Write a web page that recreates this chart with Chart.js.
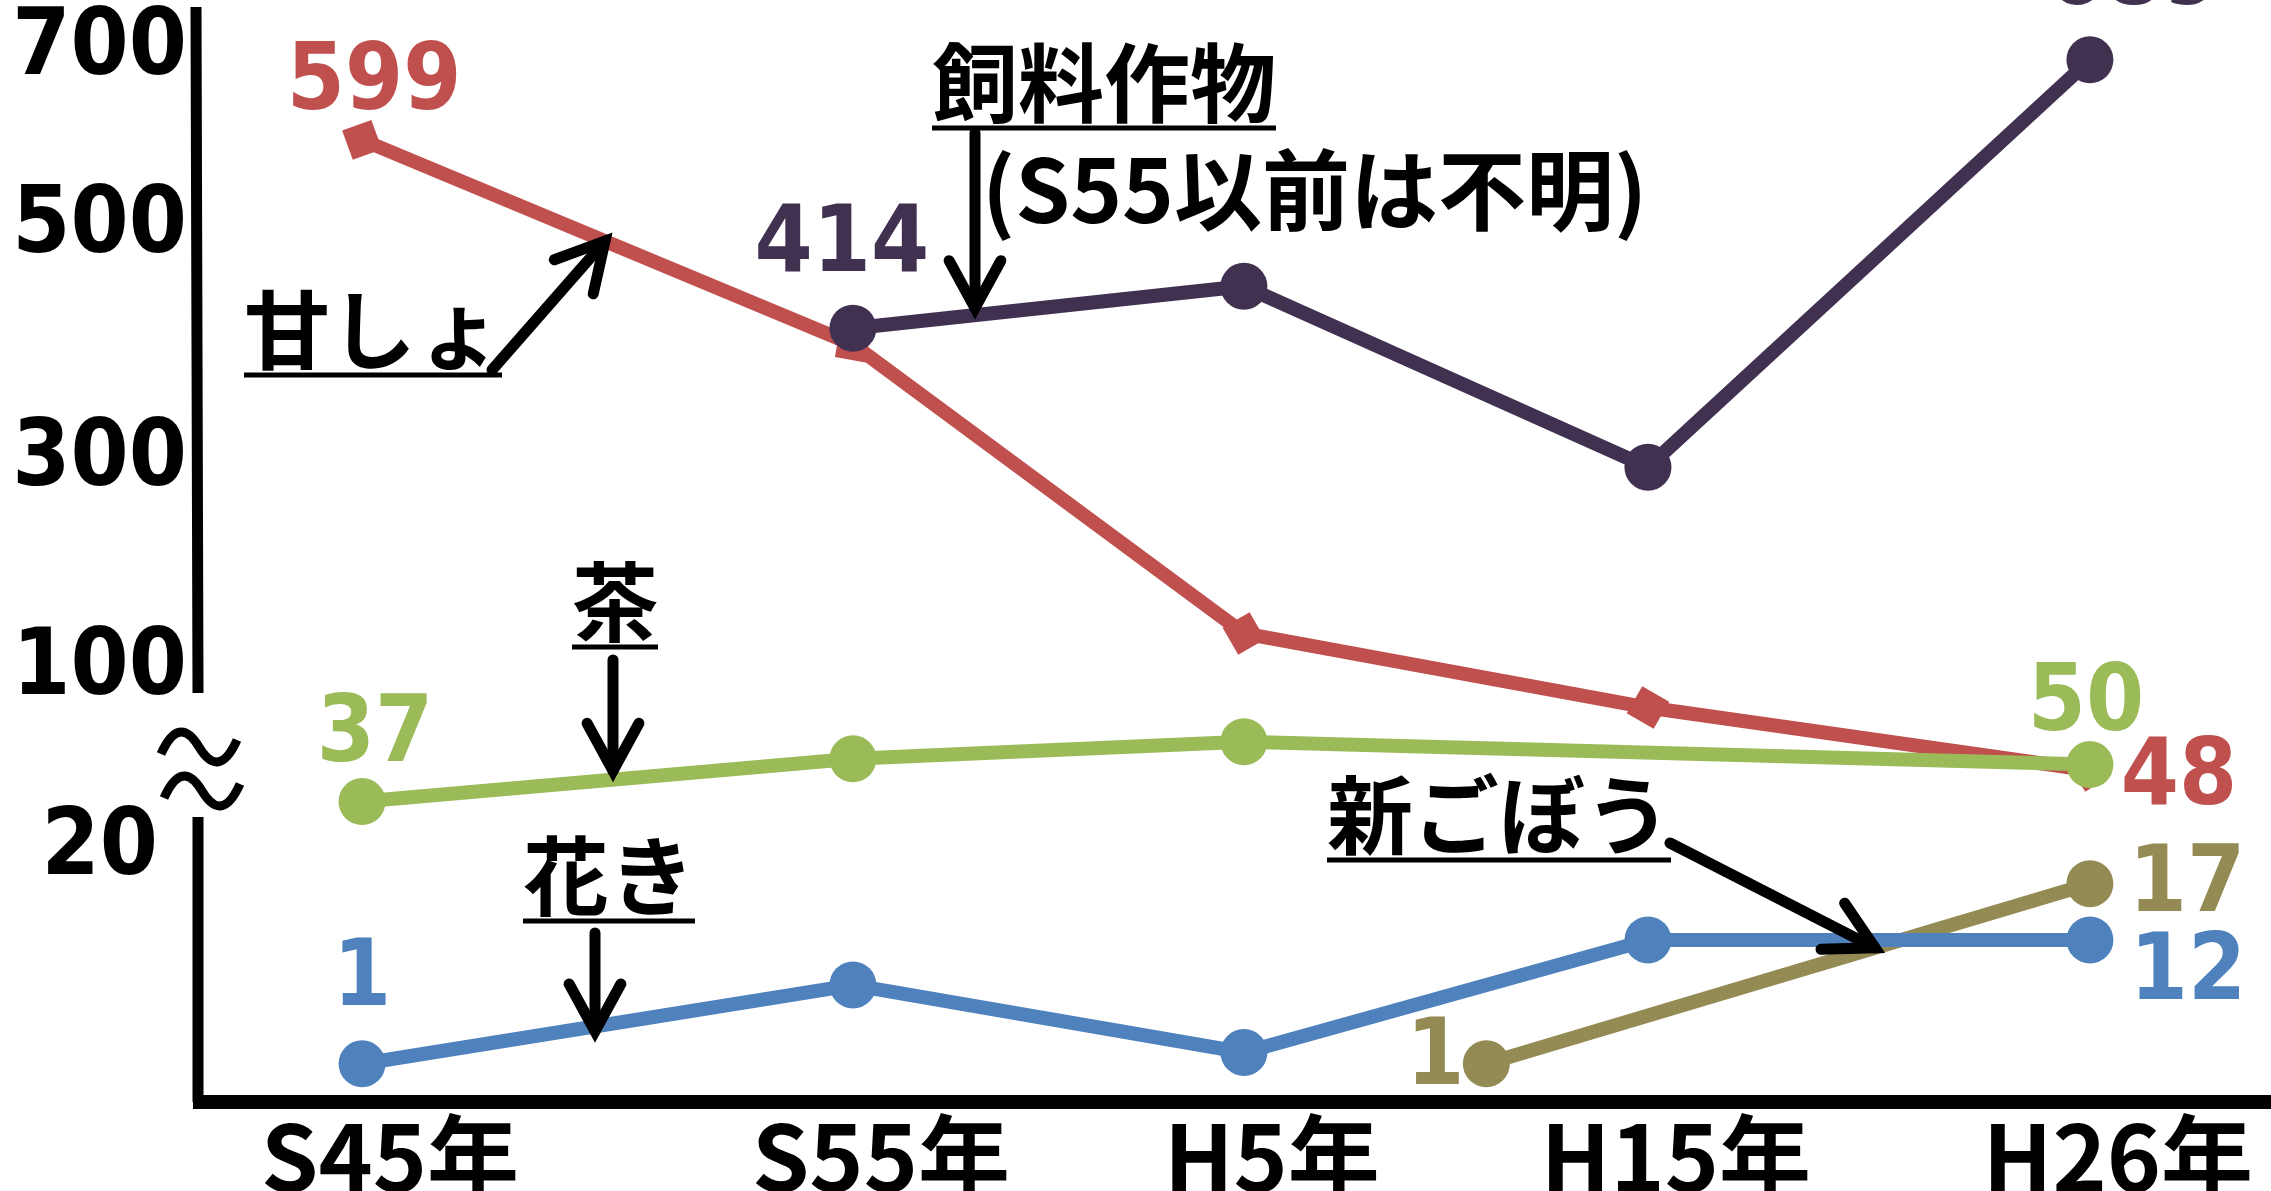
<!DOCTYPE html>
<html lang="ja">
<head>
<meta charset="utf-8">
<title>作付面積の推移</title>
<script src="https://cdn.jsdelivr.net/npm/chart.js@4.4.1/dist/chart.umd.min.js"></script>
<style>
  html, body { margin: 0; padding: 0; background: #fff; }
  #wrap { width: 2271px; height: 1191px; position: relative; }
</style>
</head>
<body>
<div id="wrap"><canvas id="chart"></canvas></div>
<script>
// ---- data ----
const yearLabels = ['S45年', 'S55年', 'H5年', 'H15年', 'H26年'];
const tickYears = [1970, 1980, 1993, 2003, 2014];
const yTicks = [20, 100, 300, 500, 700];

const shiryoYears = [1980, 1993, 2003, 2014];
const shiryoValues = [414, 450, 294, 689];

const chaYears = [1970, 1980, 1993, 2014];
const chaValues = [37, 52, 58, 50];

const kanshoYears = [1970, 1980, 1993, 2003, 2014];
const kanshoValues = [599, 400, 135, 70, 48];

const kakiYears = [1970, 1980, 1993, 2003, 2014];
const kakiValues = [1, 8, 2, 12, 12];

const goboYears = [1999, 2014];
const goboValues = [1, 17];

const NUM_FONT = '"DejaVu Sans Condensed", "DejaVu Sans", sans-serif';
const JP_FONT = '"Noto Sans CJK JP", sans-serif';

// ---- piecewise linear scale (hand drawn axis with a break) ----
class KnotScale extends Chart.LinearScale {
  static id = 'knot';
  static defaults = {};

  getPixelForValue(value) {
    if (value === null || isNaN(value)) return NaN;
    const k = this.options.knots;
    let i = 0;
    while (i < k.length - 2 && value > k[i + 1][0]) i++;
    const [v0, f0] = k[i], [v1, f1] = k[i + 1];
    return this.getPixelForDecimal(f0 + (f1 - f0) * (value - v0) / (v1 - v0));
  }

  getValueForPixel(pixel) {
    const k = this.options.knots;
    const dec = this.getDecimalForPixel(pixel);
    let i = 0;
    while (i < k.length - 2 && dec > k[i + 1][1]) i++;
    const [v0, f0] = k[i], [v1, f1] = k[i + 1];
    return v0 + (v1 - v0) * (dec - f0) / (f1 - f0);
  }
}
Chart.register(KnotScale);

function toPoints(xs, ys) {
  return xs.map((x, i) => ({ x: x, y: ys[i] }));
}

// no extra room for half labels at the ends of the axes
function noPadding(s) {
  s.paddingTop = 0;
  s.paddingBottom = 0;
  s.paddingLeft = 0;
  s.paddingRight = 0;
}

function lineYAt(chart, dsIndex, px) {
  const pts = chart.getDatasetMeta(dsIndex).data;
  for (let i = 0; i < pts.length - 1; i++) {
    const a = pts[i], b = pts[i + 1];
    if (px >= a.x && px <= b.x) return a.y + (b.y - a.y) * (px - a.x) / (b.x - a.x);
  }
  return pts[pts.length - 1].y;
}

function drawArrow(ctx, x1, y1, x2, y2) {
  const ang = Math.atan2(y2 - y1, x2 - x1);
  const head = 54, spread = 0.5;
  ctx.beginPath();
  ctx.moveTo(x1, y1);
  ctx.lineTo(x2, y2);
  ctx.stroke();
  ctx.beginPath();
  ctx.moveTo(x2 - head * Math.cos(ang - spread), y2 - head * Math.sin(ang - spread));
  ctx.lineTo(x2, y2);
  ctx.lineTo(x2 - head * Math.cos(ang + spread), y2 - head * Math.sin(ang + spread));
  ctx.stroke();
}

// value labels next to some points
const valueLabelSpots = [
  { ds: 2, i: 0, dx: 12, dy: -55 },   // 599
  { ds: 0, i: 0, dx: -11, dy: -81 },  // 414
  { ds: 0, i: 3, dx: 44, dy: -80 },   // 689 (cut off at top)
  { ds: 1, i: 0, dx: 13, dy: -65 },   // 37
  { ds: 1, i: 3, dx: -4, dy: -59 },   // 50
  { ds: 2, i: 4, dx: 89, dy: 10 },    // 48
  { ds: 4, i: 1, dx: 97, dy: 3 },     // 17
  { ds: 3, i: 4, dx: 98, dy: 35 },    // 12
  { ds: 3, i: 0, dx: 0, dy: -83 },    // 1
  { ds: 4, i: 0, dx: -51, dy: -4 }    // 1
];

const valueLabels = {
  id: 'valueLabels',
  beforeDatasetsDraw(chart) {
    const ctx = chart.ctx;
    ctx.save();
    ctx.font = 'bold 93px ' + NUM_FONT;
    ctx.textAlign = 'center';
    ctx.textBaseline = 'middle';
    valueLabelSpots.forEach(s => {
      const ds = chart.data.datasets[s.ds];
      const pt = chart.getDatasetMeta(s.ds).data[s.i];
      ctx.fillStyle = ds.borderColor;
      ctx.fillText(String(ds.data[s.i].y), pt.x + s.dx, pt.y + s.dy);
    });
    ctx.restore();
  }
};

// series names and arrows
const notes = [
  { text: '飼料作物', x: 932, y: 128, underline: true, size: 86 },
  { text: '(S55以前は不明)', x: 982, y: 223, underline: false, size: 88 },
  { text: '甘しょ', x: 244, y: 375, underline: true, size: 86 },
  { text: '茶', x: 572, y: 647, underline: true, size: 86 },
  { text: '花き', x: 523, y: 921, underline: true, size: 86 },
  { text: '新ごぼう', x: 1327, y: 860, underline: true, size: 86 }
];

const arrows = [
  { from: [492, 370], tipX: 605, ds: 2, dy: 0 },
  { from: [975, 133], tipX: 975, ds: 0, dy: -7 },
  { from: [613, 660], tipX: 613, ds: 1, dy: -9 },
  { from: [595, 933], tipX: 595, ds: 3, dy: 5 },
  { from: [1670, 843], tipX: 1875, ds: 4, dy: 0 }
];

const notesPlugin = {
  id: 'notes',
  afterDatasetsDraw(chart) {
    const ctx = chart.ctx;
    ctx.save();
    ctx.fillStyle = '#000';
    ctx.strokeStyle = '#000';
    ctx.textAlign = 'left';
    ctx.textBaseline = 'alphabetic';
    notes.forEach(n => {
      ctx.font = 'bold ' + n.size + 'px ' + JP_FONT;
      if (n.underline) {
        ctx.fillText(n.text, n.x, n.y - 12);
        const w = ctx.measureText(n.text).width;
        ctx.fillRect(n.x, n.y - 2.5, w, 5);
      } else {
        ctx.fillText(n.text, n.x, n.y);
      }
    });
    ctx.lineWidth = 11;
    ctx.lineCap = 'round';
    ctx.lineJoin = 'miter';
    arrows.forEach(a => {
      const tipY = lineYAt(chart, a.ds, a.tipX) + a.dy;
      drawArrow(ctx, a.from[0], a.from[1], a.tipX, tipY);
    });
    ctx.restore();
  }
};

// axis lines with the wavy break
const axisBreak = {
  id: 'axisBreak',
  afterDraw(chart) {
    const ctx = chart.ctx;
    const area = chart.chartArea;
    const y = chart.scales.y;
    const p100 = y.getPixelForValue(100);
    const p20 = y.getPixelForValue(20);
    ctx.save();
    ctx.strokeStyle = '#000';
    ctx.lineCap = 'butt';
    ctx.lineWidth = 11;
    ctx.beginPath();
    ctx.moveTo(area.left - 3, area.top + 7);
    ctx.lineTo(area.left - 1, p100 + 23);
    ctx.moveTo(area.left - 1, p20 - 33);
    ctx.lineTo(area.left - 1, area.bottom);
    ctx.stroke();
    ctx.lineWidth = 14;
    ctx.beginPath();
    ctx.moveTo(area.left - 6, area.bottom);
    ctx.lineTo(area.right, area.bottom);
    ctx.stroke();
    // ≈ mark
    ctx.lineWidth = 9;
    [[area.left, p100 + 77], [area.left + 3, p100 + 121]].forEach(([cx, cy]) => {
      ctx.beginPath();
      ctx.moveTo(cx - 38, cy + 7);
      ctx.quadraticCurveTo(cx - 20, cy - 33, cx, cy);
      ctx.quadraticCurveTo(cx + 20, cy + 33, cx + 38, cy - 7);
      ctx.stroke();
    });
    ctx.restore();
  }
};

const ctx = document.getElementById('chart').getContext('2d');
new Chart(ctx, {
  type: 'line',
  data: {
    datasets: [
      {
        label: '飼料作物',
        data: toPoints(shiryoYears, shiryoValues),
        borderColor: '#403151',
        backgroundColor: '#403151',
        pointStyle: 'circle',
        pointRadius: 23.5
      },
      {
        label: '茶',
        data: toPoints(chaYears, chaValues),
        borderColor: '#9BBB59',
        backgroundColor: '#9BBB59',
        pointStyle: 'circle',
        pointRadius: 23.5
      },
      {
        label: '甘しょ',
        data: toPoints(kanshoYears, kanshoValues),
        borderColor: '#C0504D',
        backgroundColor: '#C0504D',
        pointStyle: 'rect',
        pointRotation: [-20, 10, -30, 30, -33],
        pointRadius: 22
      },
      {
        label: '花き',
        data: toPoints(kakiYears, kakiValues),
        borderColor: '#4F81BD',
        backgroundColor: '#4F81BD',
        pointStyle: 'circle',
        pointRadius: 23.5
      },
      {
        label: '新ごぼう',
        data: toPoints(goboYears, goboValues),
        borderColor: '#948A54',
        backgroundColor: '#948A54',
        pointStyle: 'circle',
        pointRadius: 23.5
      }
    ]
  },
  options: {
    responsive: true,
    maintainAspectRatio: false,
    devicePixelRatio: 1,
    animation: false,
    layout: { padding: 0, autoPadding: false },
    elements: {
      line: { borderWidth: 14, tension: 0, borderCapStyle: 'butt' },
      point: { borderWidth: 0, hoverRadius: 23.5 }
    },
    plugins: {
      legend: { display: false },
      tooltip: { enabled: false }
    },
    scales: {
      x: {
        type: 'knot',
        min: 1960,
        max: 2025,
        knots: [[1970, 0.0787], [1980, 0.3156], [1993, 0.5043], [2003, 0.6993], [2014, 0.9126]],
        afterBuildTicks: s => { s.ticks = tickYears.map(v => ({ value: v })); },
        afterFit: s => { s.height = 89; noPadding(s); },
        grid: { display: false, drawTicks: false },
        border: { display: false },
        ticks: {
          autoSkip: false,
          maxRotation: 0,
          minRotation: 0,
          padding: 0,
          labelOffset: 28,
          color: '#000',
          font: { family: JP_FONT, size: 92, weight: 'bold' },
          callback: v => yearLabels[tickYears.indexOf(v)]
        }
      },
      y: {
        type: 'knot',
        min: 0,
        max: 720,
        knots: [[0, 0.0245], [20, 0.2287], [80, 0.3838], [100, 0.3920], [300, 0.5817], [500, 0.7931], [700, 0.9546]],
        afterBuildTicks: s => { s.ticks = yTicks.map(v => ({ value: v })); },
        afterFit: s => { s.width = 199; noPadding(s); },
        grid: { display: false, drawTicks: false },
        border: { display: false },
        ticks: {
          crossAlign: 'center',
          padding: 12,
          color: '#000',
          font: { family: NUM_FONT, size: 93, weight: 'bold' },
          callback: v => String(v)
        }
      }
    }
  },
  plugins: [valueLabels, notesPlugin, axisBreak]
});
</script>
</body>
</html>
